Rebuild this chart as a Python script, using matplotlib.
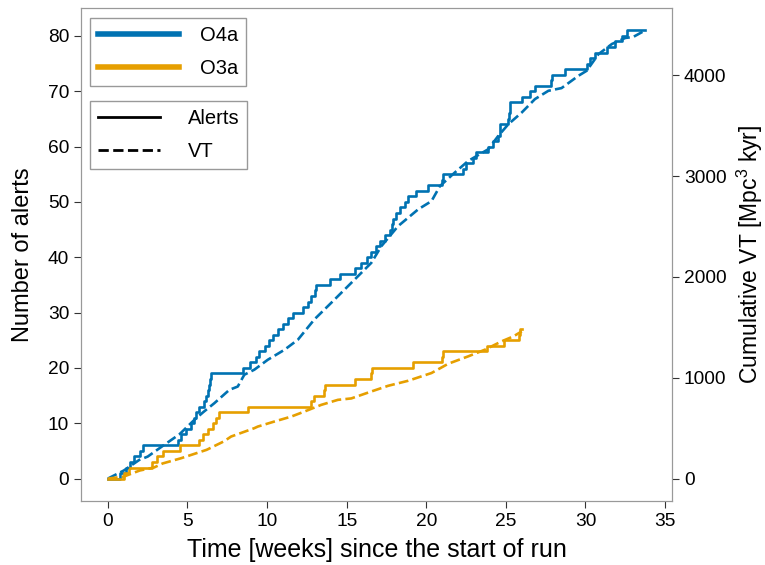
import matplotlib
matplotlib.use("Agg")
import matplotlib.pyplot as plt
from matplotlib.lines import Line2D

plt.rcParams['font.family'] = ['Liberation Sans', 'DejaVu Sans']
plt.rcParams['mathtext.fontset'] = 'custom'
plt.rcParams['mathtext.rm'] = 'Liberation Sans'

# O4a cumulative alerts (weeks, count)
o4a_t = [0, 0.78, 1.13, 1.4, 1.66, 2.0, 2.18, 4.38, 4.6, 4.9, 5.22, 5.4, 5.54, 5.75,
         6.06, 6.15, 6.27, 6.35, 6.42, 6.48, 8.48, 8.9, 9.32, 9.52, 9.84, 10.15, 10.36,
         10.68, 10.99, 11.3, 11.62, 12.25, 12.57, 12.78, 13.0, 13.1, 13.93, 14.56, 15.5,
         15.92, 16.3, 16.55, 16.87, 17.07, 17.39, 17.7, 17.85, 17.92, 18.1, 18.33, 18.65,
         18.86, 19.38, 20.1, 21.0, 21.04, 22.3, 22.5, 22.95, 23.14, 23.9, 24.2, 24.5,
         24.63, 25.16, 25.22, 25.26, 26.0, 26.5, 26.83, 27.85, 27.9, 28.7, 30.08, 30.3,
         30.6, 31.34, 31.87, 32.3, 32.6, 33.75]
o4a_n = [0, 1, 2, 3, 4, 5, 6, 7, 8, 9, 10, 11, 12, 13,
         14, 15, 16, 17, 18, 19, 20, 21, 22, 23, 24, 25, 26,
         27, 28, 29, 30, 31, 32, 33, 34, 35, 36, 37, 38,
         39, 40, 41, 42, 43, 44, 45, 46, 47, 48, 49, 50,
         51, 52, 53, 54, 55, 56, 57, 58, 59, 60, 61, 62,
         64, 65, 66, 68, 69, 70, 71, 72, 73, 74, 75, 76,
         77, 78, 79, 80, 81, 81]

# O3a cumulative alerts (weeks, count)
o3a_t = [0, 1.0, 1.35, 2.8, 3.1, 3.45, 4.55, 5.75, 5.96, 6.3, 6.6, 6.8, 7.0, 8.79,
         12.78, 12.98, 13.6, 13.65, 15.5, 16.55, 16.6, 19.17, 21.0, 21.06, 23.79,
         24.9, 25.84, 25.88, 26.0]
o3a_n = [0, 1, 2, 3, 4, 5, 6, 7, 8, 9, 10, 11, 12, 13,
         14, 15, 16, 17, 18, 19, 20, 21, 22, 23, 24,
         25, 26, 27, 27]

# Cumulative VT [Mpc^3 kyr]
o4a_vt_t = [0, 1.0, 1.97, 2.5, 3.5, 4.5, 5.43, 6.0, 6.69, 7.63, 8.16, 8.57, 9.2, 10.05,
            11.1, 11.94, 12.98, 14.03, 15.08, 15.5, 16.55, 17.18, 18.23, 19.49, 20.33,
            20.86, 21.79, 22.63, 23.89, 24.52, 25.16, 26.0, 26.83, 27.67, 28.5, 29.56,
            30.08, 30.82, 31.66, 32.5, 33.0, 33.75]
o4a_vt = [0, 80, 185, 218, 330, 440, 582, 660, 748, 880, 913, 1030, 1080, 1179,
          1278, 1378, 1580, 1743, 1908, 1974, 2140, 2305, 2504, 2670, 2752,
          2901, 3035, 3150, 3266, 3398, 3515, 3631, 3764, 3846, 3873, 3995,
          4045, 4210, 4310, 4370, 4380, 4445]

o3a_vt_t = [0, 1.0, 2.0, 2.9, 3.44, 4.6, 6.2, 7.3, 7.74, 9.2, 9.42, 10.46, 11.52, 12.35,
            13.4, 14.45, 15.29, 16.55, 17.6, 18.86, 20.33, 21.38, 22.63, 23.68, 24.73,
            25.47, 26.0]
o3a_vt = [0, 20, 80, 110, 150, 202, 285, 370, 417, 500, 516, 566, 615, 665,
          731, 781, 795, 864, 920, 970, 1047, 1139, 1212, 1278, 1361,
          1410, 1460]

runs = ['O4a', 'O3a']
colors = ['#0072b2', '#e69f00']
xticks = [0, 5, 10, 15, 20, 25, 30, 35]

fig = plt.figure(figsize=(7.65, 5.65), dpi=100)
ax = fig.add_axes([81/765, 64/565, 591/765, 493/565])
ax2 = ax.twinx()

ax.step(o4a_t, o4a_n, where='post', color=colors[0], lw=1.9)
ax.step(o3a_t, o3a_n, where='post', color=colors[1], lw=1.9)
ax2.plot(o4a_vt_t, o4a_vt, color=colors[0], lw=1.9, ls='--')
ax2.plot(o3a_vt_t, o3a_vt, color=colors[1], lw=1.9, ls='--')

ax.set_xticks(xticks)
ax.set_xlabel('Time [weeks] since the start of run', fontsize=18, labelpad=6)
ax.set_ylabel('Number of alerts', fontsize=17, labelpad=10)
ax2.set_ylabel('Cumulative VT [Mpc$^3$ kyr]', fontsize=16.5, labelpad=6)

for a in (ax, ax2):
    for s in a.spines.values():
        s.set_color('#999999')
    a.tick_params(labelsize=13.8, length=5, color='#333333')

h1 = [Line2D([], [], color=c, lw=4) for c in colors]
leg1 = ax2.legend(h1, runs, loc='upper left', bbox_to_anchor=(0.0152, 0.9797),
                  borderaxespad=0, fontsize=14.5, handlelength=4.0, handletextpad=1.05,
                  labelspacing=0.7, fancybox=False, edgecolor='#999999', framealpha=1)
ax2.add_artist(leg1)
h2 = [Line2D([], [], color='black', lw=2, ls='-'), Line2D([], [], color='black', lw=2, ls='--')]
ax2.legend(h2, ['Alerts', 'VT'], loc='upper left', bbox_to_anchor=(0.0152, 0.811),
           borderaxespad=0, fontsize=14.5, handlelength=3.1, handletextpad=1.35,
           labelspacing=0.7, fancybox=False, edgecolor='#999999', framealpha=1)

fig.savefig('out.png', dpi=100)
